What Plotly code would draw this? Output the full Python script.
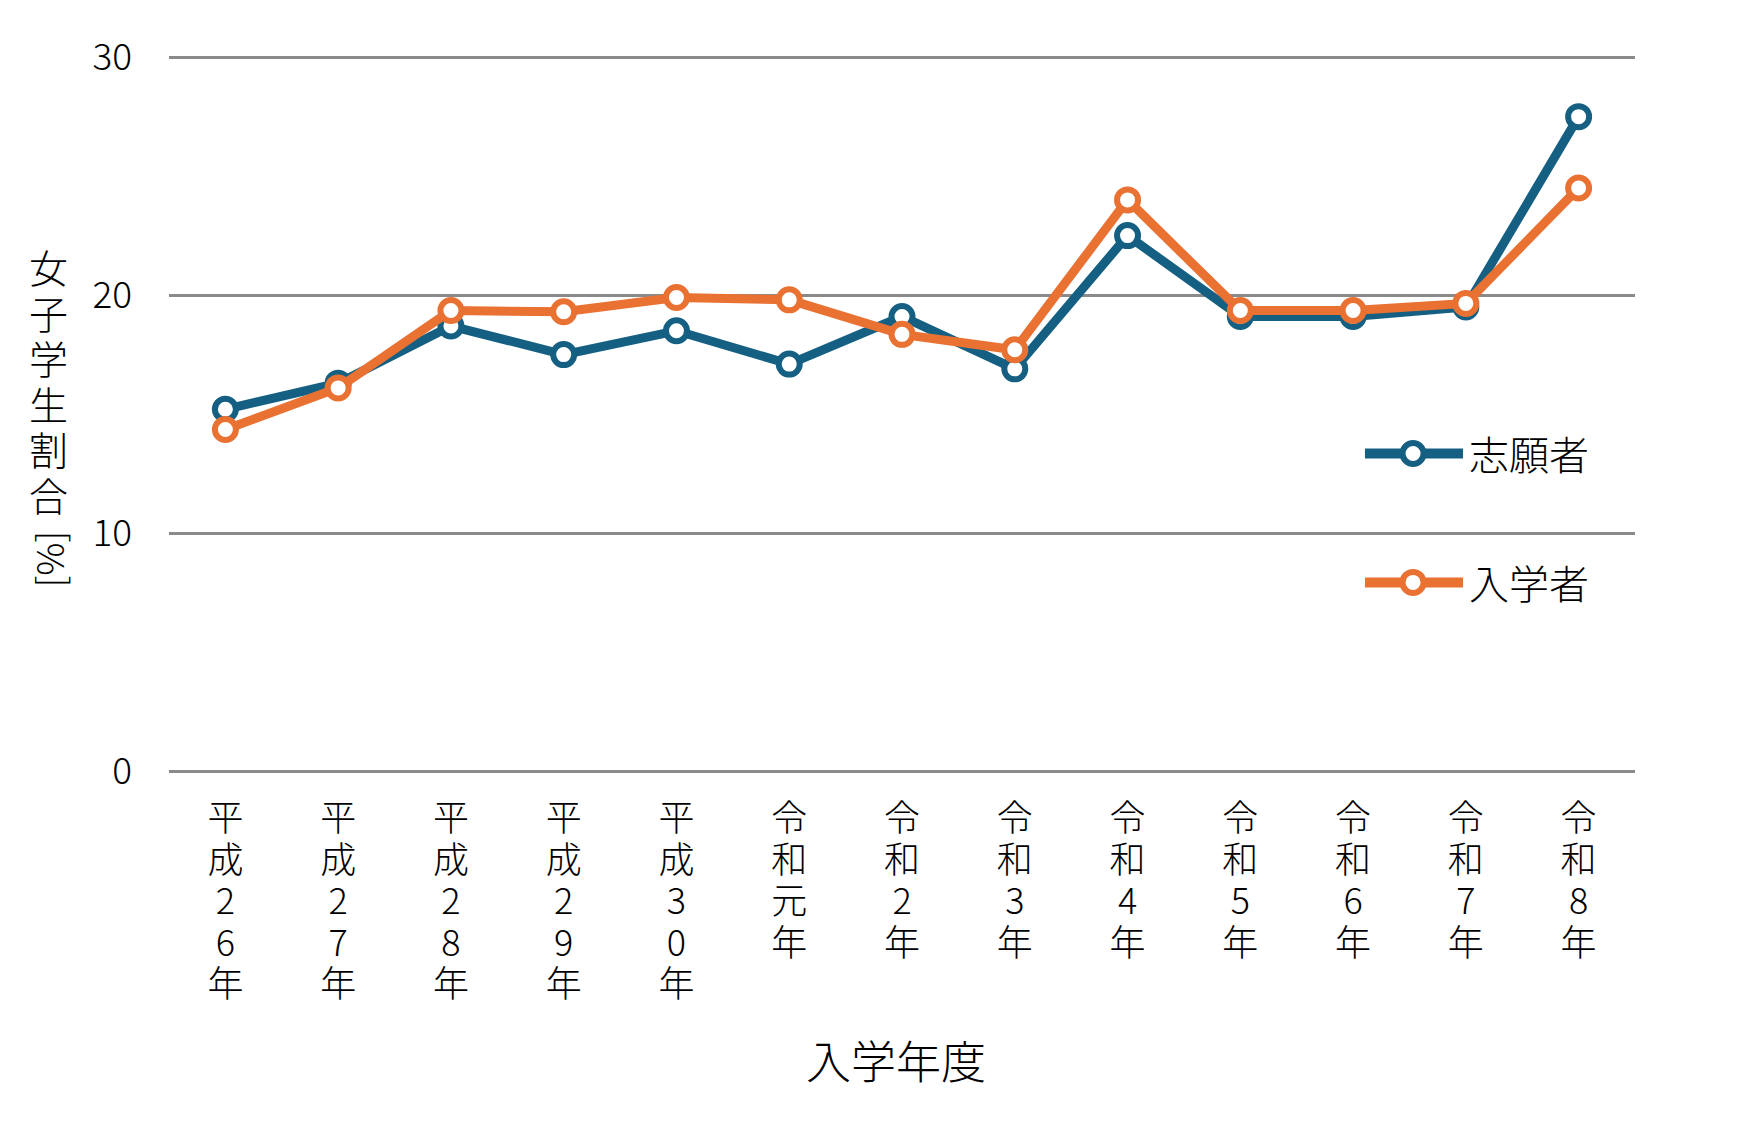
import plotly.graph_objects as go

# 入学年度
years = ["平成26年", "平成27年", "平成28年", "平成29年", "平成30年",
         "令和元年", "令和2年", "令和3年", "令和4年", "令和5年",
         "令和6年", "令和7年", "令和8年"]

# 女子学生割合 [%]
applicants = [15.2, 16.3, 18.7, 17.5, 18.5, 17.1, 19.1, 16.9, 22.5, 19.1, 19.1, 19.5, 27.5]
enrolled = [14.35, 16.1, 19.35, 19.3, 19.9, 19.8, 18.35, 17.7, 24.0, 19.35, 19.35, 19.65, 24.5]

series_names = ["志願者", "入学者"]
colors = ["#156082", "#E97132"]

y_ticks = [0, 10, 20, 30]

FONT = "Noto Sans CJK JP"


def stacked(text, size):
    # 縦書き風に1文字ずつ改行
    return "<br>".join(f'<span style="font-size:{size}px">{c}</span>' for c in text)


def main():
    fig = go.Figure()

    for name, vals, col in zip(series_names, [applicants, enrolled], colors):
        fig.add_trace(go.Scatter(
            x=years,
            y=vals,
            mode="lines+markers",
            name=name,
            line=dict(color=col, width=9),
            marker=dict(symbol="circle", size=21, color="white",
                        line=dict(color=col, width=6)),
            showlegend=False,
        ))

    # 凡例（線を長く描くため自前で作る）
    legend_y = [0.4404, 0.2616]
    for name, col, ly in zip(series_names, colors, legend_y):
        fig.add_shape(type="line", xref="paper", yref="paper",
                      x0=0.8158, x1=0.8827, y0=ly, y1=ly,
                      line=dict(color=col, width=10))
        fig.add_shape(type="circle", xref="paper", yref="paper",
                      xsizemode="pixel", ysizemode="pixel",
                      xanchor=0.8486, yanchor=ly,
                      x0=-10.5, x1=10.5, y0=-10.5, y1=10.5,
                      fillcolor="white", line=dict(color=col, width=6))
        fig.add_annotation(text=name, xref="paper", yref="paper",
                           x=0.8855, y=ly, xanchor="left", yanchor="middle",
                           showarrow=False,
                           font=dict(family=FONT, size=40, color="#000000", weight=300))

    # 軸タイトル
    fig.add_annotation(text=stacked("女子学生割合", 39), xref="paper", yref="paper",
                       x=-0.0825, y=0.5422, xanchor="center", yanchor="middle",
                       showarrow=False,
                       font=dict(family=FONT, size=35, color="#000000", weight=300))
    fig.add_annotation(text="[%]", textangle=-90, xref="paper", yref="paper",
                       x=-0.0825, y=0.2935, xanchor="center", yanchor="middle",
                       showarrow=False,
                       font=dict(family=FONT, size=37, color="#000000", weight=300))
    fig.add_annotation(text="入学年度", xref="paper", yref="paper",
                       x=0.4959, y=-0.4008, xanchor="center", yanchor="middle",
                       showarrow=False,
                       font=dict(family=FONT, size=45, color="#000000", weight=300))

    # ページ本体の余白(8px)を見込んだマージン
    fig.update_layout(
        width=1754,
        height=1141,
        margin=dict(l=161, r=127, t=42, b=378),
        paper_bgcolor="white",
        plot_bgcolor="white",
        font=dict(family=FONT, color="#000000", weight=300),
    )

    fig.update_xaxes(
        type="category",
        tickmode="array",
        tickvals=years,
        ticktext=[stacked(y, 36) for y in years],
        tickfont=dict(family=FONT, size=32, color="#000000", weight=300),
        tickangle=0,
        showgrid=False,
        showline=False,
        ticks="",
        ticklabelstandoff=27,
        range=[-0.5, len(years) - 0.5],
    )
    fig.update_yaxes(
        range=[0, 30.3],
        tickvals=y_ticks,
        tickfont=dict(family=FONT, size=37, color="#000000", weight=300),
        showgrid=True,
        gridcolor="#8a8a8a",
        gridwidth=3,
        zeroline=True,
        zerolinecolor="#8a8a8a",
        zerolinewidth=3,
        showline=False,
        ticks="",
        ticklabelstandoff=36,
    )

    fig.write_html("out.html")


if __name__ == "__main__":
    main()
